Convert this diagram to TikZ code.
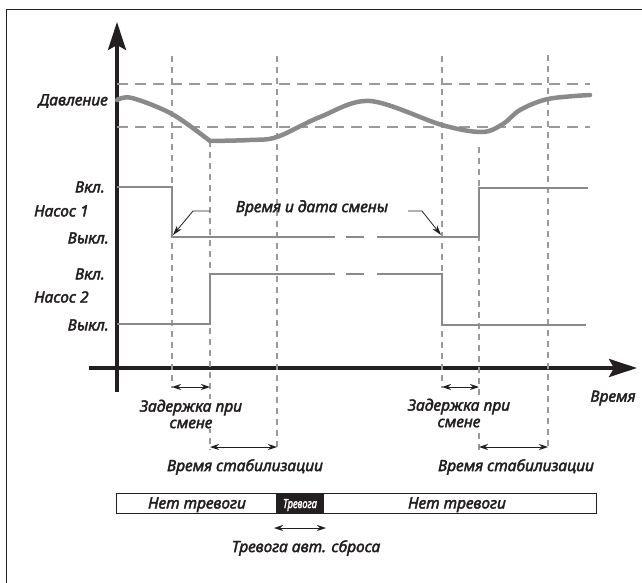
\documentclass[tikz,border=0pt]{standalone}
\usepackage{fontspec}
\setmainfont{Noto Sans}
\newfontfamily\lblfont{Noto Sans}[FakeBold=2.5]
\usetikzlibrary{arrows.meta}
\definecolor{trace}{HTML}{8A8A8A}
\definecolor{guide}{HTML}{9A9A9A}
\definecolor{ink}{HTML}{231F20}
\begin{document}
\begin{tikzpicture}[x=1pt,y=-1pt,
  frame/.style={draw=ink, line width=1pt},
  axisline/.style={draw=ink, line width=3.6pt, -{Stealth[length=28pt,width=18pt,inset=5pt]}},
  levelline/.style={draw=guide, line width=1.6pt, dash pattern=on 11pt off 7pt},
  marker/.style={draw=guide, line width=1.4pt, dash pattern=on 6pt off 5pt},
  pumpline/.style={draw=trace, line width=1.8pt},
  pressline/.style={draw=trace, line width=4.5pt, line cap=round},
  span/.style={draw=ink, line width=1pt, {Stealth[length=9pt,width=6pt]}-{Stealth[length=9pt,width=6pt]}},
  leader/.style={draw=ink, line width=0.8pt, -{Stealth[length=10pt,width=6pt]}},
  lbl/.style={font=\lblfont\itshape\fontsize{15.5}{16.5}\selectfont, text=ink, inner sep=1pt},
  cover/.style={lbl, fill=white, inner sep=1pt},
]
\useasboundingbox (0,0) rectangle (642,583);

% outer frame
\draw[frame] (6,600) -- (6,10) -- (660,10);

% axes
\draw[axisline] (117,392) -- (117,22);
\draw[axisline] (89,368) -- (637,368);

% pressure limits
\draw[levelline] (117,84) -- (590,84);
\draw[levelline] (117,127) -- (590,127);

% time markers
\coordinate (m1t) at (172,56);  \coordinate (m1b) at (172,388);
\coordinate (m2t) at (210,141); \coordinate (m2b) at (210,450);
\coordinate (m3t) at (277,56);  \coordinate (m3b) at (277,450);
\coordinate (m4t) at (442,56);  \coordinate (m4b) at (442,388);
\coordinate (m5t) at (479,147); \coordinate (m5b) at (479,450);
\coordinate (m6t) at (548,55);  \coordinate (m6b) at (548,450);
\foreach \m in {1,...,6} \draw[marker] (m\m t) -- (m\m b);

% pressure curve
\draw[pressline] plot[smooth, tension=0.55] coordinates {
  (117,100) (132,98) (172,114) (210,141)};
\draw[pressline] plot[smooth, tension=0.55] coordinates {
  (210,141) (250,140) (277,137) (320,117) (370,101) (442,125) (482,132)
  (503,124) (520,110) (548,99) (590,95)};

% pump 1
\coordinate (p1a) at (117,187); \coordinate (p1b) at (172,187);
\coordinate (p1c) at (172,237); \coordinate (p1d) at (335,237);
\coordinate (p1e) at (346,237); \coordinate (p1f) at (364,237);
\coordinate (p1g) at (377,237); \coordinate (p1h) at (479,237);
\coordinate (p1i) at (479,188); \coordinate (p1j) at (588,188);
\draw[pumpline] (p1a) -- (p1b) -- (p1c) -- (p1d);
\draw[pumpline] (p1e) -- (p1f);
\draw[pumpline] (p1g) -- (p1h) -- (p1i) -- (p1j);

% pump 2
\coordinate (p2a) at (117,324); \coordinate (p2b) at (210,324);
\coordinate (p2c) at (210,274); \coordinate (p2d) at (335,274);
\coordinate (p2e) at (346,274); \coordinate (p2f) at (364,274);
\coordinate (p2g) at (377,274); \coordinate (p2h) at (442,274);
\coordinate (p2i) at (442,325); \coordinate (p2j) at (586,325);
\draw[pumpline] (p2a) -- (p2b) -- (p2c) -- (p2d);
\draw[pumpline] (p2e) -- (p2f);
\draw[pumpline] (p2g) -- (p2h) -- (p2i) -- (p2j);

% axis labels
\node[lbl, anchor=east] (pres) at (109,101) {Давление};
\node[lbl, anchor=east] (on1)  at (106,187) {Вкл.};
\node[lbl, anchor=west] (pump1) at (33,211) {Насос 1};
\node[lbl, anchor=east] (off1) at (110,238) {Выкл.};
\node[lbl, anchor=east] (on2)  at (106,274) {Вкл.};
\node[lbl, anchor=west] (pump2) at (33,297) {Насос 2};
\node[lbl, anchor=east] (off2) at (110,325) {Выкл.};
\node[lbl] (tlbl) at (613,398) {Время};

% changeover annotation
\node[lbl] (chg) at (312,208) {Время и дата смены};
\coordinate (ll1) at (210,211); \coordinate (ll2) at (193,211);
\coordinate (rl1) at (408,211); \coordinate (rl2) at (422,211);
\draw[leader] (ll1) -- (ll2) -- (173,235);
\draw[leader] (rl1) -- (rl2) -- (441,235);

% intervals
\draw[span] (m1b |- 0,387) -- (m2b |- 0,387);
\draw[span] (m4b |- 0,387) -- (m5b |- 0,387);
\draw[span] (m2b |- 0,447) -- (m3b |- 0,447);
\draw[span] (m5b |- 0,447) -- (m6b |- 0,447);

\node[cover, align=center, inner sep=0.5pt] (dly1) at (191,414) {Задержка при\\смене};
\node[cover, align=center, inner sep=0.5pt] (dly2) at (459,413) {Задержка при\\смене};
\node[lbl] (stb1) at (245,467) {Время стабилизации};
\node[lbl] (stb2) at (516,467) {Время стабилизации};

% alarm bar
\draw[draw=ink, line width=1pt] (116,493) rectangle (596,513);
\fill[ink] (276,493) rectangle (324,513);
\node[cover, anchor=base, inner ysep=0pt] (ok1) at (197,508.5) {Нет тревоги};
\node[cover, anchor=base, inner ysep=0pt] (ok2) at (457,508.5) {Нет тревоги};
\node[lbl, anchor=base, text=white, font=\lblfont\itshape\fontsize{12.5}{13}\selectfont, xscale=0.75] (alarm) at (300,508) {Тревога};

% auto-reset interval
\coordinate (ar1) at (274,528); \coordinate (ar2) at (326,528);
\draw[span] (ar1) -- (ar2);
\node[lbl] (arl) at (306,548) {Тревога авт. сброса};
\end{tikzpicture}
\end{document}
